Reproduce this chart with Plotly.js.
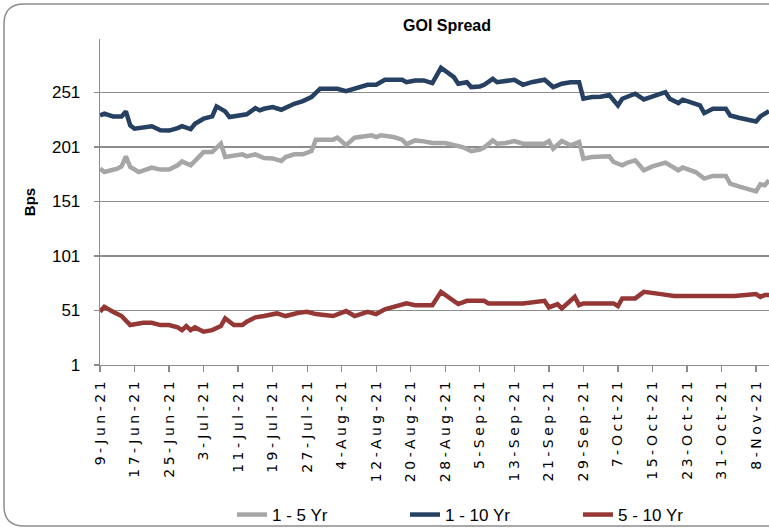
<!DOCTYPE html>
<html>
<head>
<meta charset="utf-8">
<script src="https://cdn.plot.ly/plotly-3.0.1.min.js"></script>
<style>
html,body{margin:0;padding:0;background:#fff;}
#chart{width:769px;height:529px;}
</style>
</head>
<body>
<div id="chart"></div>
<script>
// ---- Data ----
const seriesNames = ["1 - 5 Yr", "1 - 10 Yr", "5 - 10 Yr"];

const dates1to5 = ["2021-06-09","2021-06-10","2021-06-13","2021-06-14","2021-06-15","2021-06-16","2021-06-18","2021-06-21","2021-06-23","2021-06-25","2021-06-27","2021-06-28","2021-06-30","2021-07-01","2021-07-03","2021-07-05","2021-07-07","2021-07-08","2021-07-10","2021-07-12","2021-07-13","2021-07-15","2021-07-17","2021-07-19","2021-07-21","2021-07-22","2021-07-24","2021-07-26","2021-07-28","2021-07-29","2021-07-31","2021-08-02","2021-08-03","2021-08-05","2021-08-07","2021-08-09","2021-08-11","2021-08-12","2021-08-13","2021-08-16","2021-08-18","2021-08-19","2021-08-21","2021-08-23","2021-08-25","2021-08-28","2021-08-31","2021-09-01","2021-09-03","2021-09-05","2021-09-06","2021-09-08","2021-09-09","2021-09-11","2021-09-13","2021-09-15","2021-09-17","2021-09-20","2021-09-21","2021-09-22","2021-09-24","2021-09-26","2021-09-28","2021-09-29","2021-10-01","2021-10-03","2021-10-05","2021-10-06","2021-10-08","2021-10-09","2021-10-11","2021-10-13","2021-10-15","2021-10-18","2021-10-21","2021-10-22","2021-10-25","2021-10-27","2021-10-29","2021-11-01","2021-11-02","2021-11-04","2021-11-08","2021-11-09","2021-11-10","2021-11-11"];
const values1to5 = [181.1,178,181.1,183.2,192.4,182.6,178,182,180.2,180.2,184.2,187.8,184.2,188.7,196.3,196.3,204,191.7,193.3,194.2,192.4,194.2,190.8,190.5,188.1,191.7,194.2,194.2,197.2,207.7,207.7,207.7,209.5,202.5,209.5,210.1,211.6,210.1,211.6,210.1,207.7,203.4,207,206.1,204.6,204.6,201.5,200.9,197.2,198.5,200.4,207,204,204.6,206.4,204,204,204,206.4,199.4,206.4,202.5,205.5,190.3,191.7,192,192.4,187.2,184.2,186.3,188.7,179.6,183.2,186.6,179.6,182.1,178,172,174.4,174.4,167.4,164.9,160.3,166.8,165.8,170.4];

const dates1to10 = ["2021-06-09","2021-06-10","2021-06-12","2021-06-14","2021-06-15","2021-06-16","2021-06-17","2021-06-19","2021-06-21","2021-06-23","2021-06-25","2021-06-27","2021-06-28","2021-06-30","2021-07-01","2021-07-03","2021-07-05","2021-07-06","2021-07-08","2021-07-09","2021-07-11","2021-07-13","2021-07-15","2021-07-16","2021-07-17","2021-07-19","2021-07-21","2021-07-22","2021-07-24","2021-07-26","2021-07-28","2021-07-30","2021-07-31","2021-08-03","2021-08-05","2021-08-07","2021-08-10","2021-08-12","2021-08-14","2021-08-16","2021-08-18","2021-08-19","2021-08-21","2021-08-23","2021-08-25","2021-08-27","2021-08-30","2021-08-31","2021-09-02","2021-09-03","2021-09-05","2021-09-06","2021-09-08","2021-09-09","2021-09-11","2021-09-13","2021-09-15","2021-09-17","2021-09-20","2021-09-22","2021-09-24","2021-09-26","2021-09-28","2021-09-29","2021-10-01","2021-10-03","2021-10-05","2021-10-06","2021-10-07","2021-10-08","2021-10-11","2021-10-13","2021-10-15","2021-10-18","2021-10-19","2021-10-21","2021-10-22","2021-10-25","2021-10-26","2021-10-27","2021-10-29","2021-11-01","2021-11-02","2021-11-04","2021-11-08","2021-11-09","2021-11-10","2021-11-11"];
const values1to10 = [230,231.5,229,229,233.6,220.8,217.7,218.3,219.9,216.2,216,218.3,220.1,217.4,222.3,226.9,229,238.2,233.6,228.4,229.9,230.9,236.6,234.5,236,237.5,235.1,237,240.6,243,246.7,254.4,254.4,254.4,252.2,254.4,258,258,262.6,262.6,262.6,260.4,262,262,259.5,273.6,265,259,260.4,255.9,256.5,258,263.5,260.4,261.4,262.6,258,260.4,262.6,255.9,259,260.4,260.4,245.2,246.7,247,248.6,243.7,239.1,245.2,249.8,244.6,247.7,251.3,245.2,241.2,244.3,240.6,239.1,232,236,236,229.9,227.8,224.4,229,231.5,233.9];

const dates5to10 = ["2021-06-09","2021-06-10","2021-06-12","2021-06-14","2021-06-16","2021-06-19","2021-06-21","2021-06-23","2021-06-25","2021-06-27","2021-06-28","2021-06-29","2021-06-30","2021-07-01","2021-07-03","2021-07-05","2021-07-07","2021-07-08","2021-07-10","2021-07-12","2021-07-13","2021-07-15","2021-07-17","2021-07-20","2021-07-22","2021-07-25","2021-07-27","2021-07-29","2021-07-31","2021-08-02","2021-08-05","2021-08-07","2021-08-10","2021-08-12","2021-08-14","2021-08-16","2021-08-19","2021-08-21","2021-08-23","2021-08-25","2021-08-27","2021-08-31","2021-09-02","2021-09-06","2021-09-07","2021-09-15","2021-09-20","2021-09-21","2021-09-23","2021-09-24","2021-09-27","2021-09-28","2021-09-29","2021-10-03","2021-10-06","2021-10-07","2021-10-08","2021-10-11","2021-10-13","2021-10-17","2021-10-20","2021-10-26","2021-11-03","2021-11-08","2021-11-09","2021-11-10","2021-11-11"];
const values5to10 = [49.8,54.4,49.8,45.9,37.6,39.7,39.7,37.6,37.6,35.5,33,36.7,33,35.5,31.5,33,36.7,43.8,37.6,37.6,40.7,44.7,45.9,48.3,45.9,48.9,49.8,47.7,46.8,45.9,50.5,45.9,49.8,47.7,52,54.4,57.5,55.9,55.9,55.9,68.1,56.9,59.9,59.9,57.5,57.5,59.9,53.8,56.9,52.9,63.5,55.9,57.5,57.5,57.5,55,62.1,62.1,68.1,66,64.2,64.2,64.2,66,63.5,65.1,65.1];

const yTickStart = 1, yTickStep = 50;
const xTickStart = "2021-06-09", xTickDays = 8;

// ---- Styles ----
const colors = ["#A6A6A6", "#254061", "#953735"];
const font = "'Liberation Sans', Arial, sans-serif";

const traces = [
  {x: dates1to5, y: values1to5, name: seriesNames[0]},
  {x: dates1to10, y: values1to10, name: seriesNames[1]},
  {x: dates5to10, y: values5to10, name: seriesNames[2]}
].map((t, i) => Object.assign(t, {
  type: "scatter", mode: "lines",
  line: {color: colors[i], width: 4.5, shape: "linear"},
  hoverinfo: "skip"
}));

// page px -> paper coords (plot area: x 100..769, y 39..365)
const L = 100, R = 769, T = 39, B = 365;
const px = v => (v - L) / (R - L);
const py = v => (B - v) / (B - T);
const rad = 20;
const border = `M ${px(4)} ${py(4 + rad)} Q ${px(4)} ${py(4)} ${px(4 + rad)} ${py(4)} L ${px(820)} ${py(4)} L ${px(820)} ${py(526)} L ${px(4 + rad)} ${py(526)} Q ${px(4)} ${py(526)} ${px(4)} ${py(526 - rad)} Z`;

const layout = {
  width: 769, height: 529,
  margin: {l: L, r: 769 - R, t: T, b: 529 - B, pad: 0, autoexpand: false},
  paper_bgcolor: "#ffffff", plot_bgcolor: "#ffffff",
  showlegend: true,
  title: {
    text: "<b>GOI Spread</b>",
    font: {family: font, size: 16, color: "#000"},
    x: px(447), xref: "paper", xanchor: "center",
    y: 1 - 25 / 529, yref: "container", yanchor: "middle"
  },
  xaxis: {
    type: "date",
    range: ["2021-06-09", "2021-11-11"],
    tick0: xTickStart, dtick: xTickDays * 86400000,
    tickformat: "%-d-%b-%y",
    tickangle: -90,
    ticks: "outside", ticklen: 6, tickcolor: "#8c8c8c", tickwidth: 1.3,
    showline: true, linecolor: "#8c8c8c", linewidth: 1.3,
    showgrid: false, zeroline: false,
    tickfont: {family: "'DejaVu Sans', sans-serif", size: 14, color: "#000"},
    automargin: false, fixedrange: true
  },
  yaxis: {
    range: [1, 300],
    tick0: yTickStart, dtick: yTickStep,
    ticks: "outside", ticklen: 5, tickcolor: "#8c8c8c", tickwidth: 1.3,
    showline: true, linecolor: "#8c8c8c", linewidth: 1.3,
    showgrid: true, gridcolor: "#8c8c8c", gridwidth: 1.3,
    zeroline: false,
    ticklabelstandoff: 10,
    tickfont: {family: font, size: 17, color: "#000"},
    title: {text: "<b>Bps</b>", font: {family: font, size: 15, color: "#000"}, standoff: 12},
    automargin: false, fixedrange: true
  },
  legend: {
    orientation: "h",
    x: px(232), xanchor: "left",
    y: py(515), yanchor: "middle",
    entrywidth: 128, entrywidthmode: "pixels",
    font: {family: font, size: 17, color: "#000"},
    bgcolor: "rgba(0,0,0,0)",
    itemclick: false, itemdoubleclick: false
  },
  shapes: [{
    type: "path", xref: "paper", yref: "paper", path: border,
    line: {color: "#8c8c8c", width: 1.5}, fillcolor: "rgba(0,0,0,0)", layer: "below"
  }]
};

Plotly.newPlot("chart", traces, layout, {displayModeBar: false, staticPlot: true}).then(() => {
  document.querySelectorAll("#chart .xtick text").forEach(t => {
    t.setAttribute("letter-spacing", "3.5px");
  });
});
</script>
</body>
</html>
